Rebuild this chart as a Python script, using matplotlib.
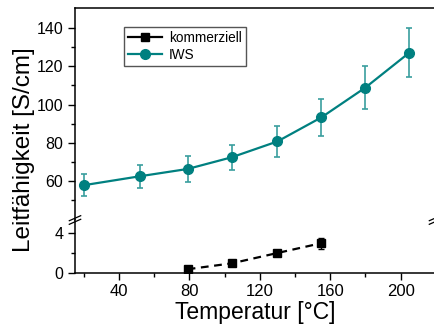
import matplotlib
matplotlib.use('Agg')
import matplotlib.pyplot as plt
from matplotlib.lines import Line2D
from matplotlib.ticker import MultipleLocator, FixedLocator

plt.rcParams['font.family'] = ['Liberation Sans', 'DejaVu Sans']

# IWS measurements
iws_temp = [20, 52, 79, 104, 130, 155, 180, 205]
iws_cond = [57.8, 62.5, 66.3, 72.4, 80.7, 93.3, 108.9, 127.2]
iws_err = [5.8, 6.1, 6.8, 6.6, 8.1, 9.5, 11.0, 12.8]

# commercial reference
kom_temp = [79, 104, 130, 155]
kom_cond = [0.4, 0.98, 2.0, 2.97]
kom_err = [0.15, 0.2, 0.25, 0.55]

teal = '#008080'
W, H = 435, 331

fig = plt.figure(figsize=(W / 100, H / 100), dpi=100)

left, right = 75, 435
y_top, y_brk, y_bot = 8, 220, 273.3
ax_hi = fig.add_axes([left / W, 1 - y_brk / H, (right - left) / W, (y_brk - y_top) / H])
ax_lo = fig.add_axes([left / W, 1 - y_bot / H, (right - left) / W, (y_bot - y_brk) / H], sharex=ax_hi)

ax_hi.errorbar(iws_temp, iws_cond, yerr=iws_err, color=teal, lw=1.6, marker='o', ms=7,
               ecolor='#3a9e9e', elinewidth=1.2, capsize=2.5, capthick=1.2, label='IWS')
ax_lo.errorbar(kom_temp, kom_cond, yerr=kom_err, color='black', lw=1.6, ls=(0, (3.5, 2.5)),
               marker='s', ms=6, ecolor='black', elinewidth=1.0, capsize=2.5, capthick=1.0,
               label='kommerziell')

ax_hi.set_ylim(39.6, 150.5)
ax_lo.set_ylim(0, 5.25)
ax_hi.set_xlim(15, 219.5)

ax_hi.yaxis.set_major_locator(FixedLocator([60, 80, 100, 120, 140]))
ax_hi.yaxis.set_minor_locator(FixedLocator([50, 70, 90, 110, 130]))
ax_lo.yaxis.set_major_locator(MultipleLocator(4))
ax_lo.yaxis.set_minor_locator(MultipleLocator(2))
ax_lo.xaxis.set_major_locator(MultipleLocator(40))
ax_lo.xaxis.set_minor_locator(MultipleLocator(20))

for ax in (ax_hi, ax_lo):
    ax.spines['right'].set_visible(False)
    ax.tick_params(which='both', direction='out', labelsize=11.5, width=1, colors='black')
    ax.tick_params(which='major', length=5)
    ax.tick_params(which='minor', length=3)
    for sp in ax.spines.values():
        sp.set_linewidth(1.1)

ax_hi.spines['bottom'].set_visible(False)
ax_lo.spines['top'].set_visible(False)
ax_hi.tick_params(axis='x', which='both', bottom=False, labelbottom=False)
ax_lo.tick_params(axis='x', labelsize=12, pad=3)

ax_lo.set_xlabel('Temperatur [°C]', fontsize=16.5, labelpad=1)
fig.text(24 / W, 1 - 150 / H, 'Leitfähigkeit [S/cm]', rotation=90, fontsize=17.5,
         ha='center', va='center')

# break marks on the axis
for xb in (left, right):
    for dy in (-1.8, 1.8):
        x0, x1 = xb - 5.7, xb + 5.7
        y0, y1 = y_brk + 2.5 + dy, y_brk - 2.5 + dy
        fig.add_artist(Line2D([x0 / W, x1 / W], [1 - y0 / H, 1 - y1 / H], color='black', lw=0.9))

handles = [
    Line2D([], [], color='black', lw=1.6, marker='s', ms=6),
    Line2D([], [], color=teal, lw=1.6, marker='o', ms=7),
]
leg = ax_hi.legend(handles, ['kommerziell', 'IWS'], loc='upper left', bbox_to_anchor=(0.136, 0.912),
                   borderaxespad=0, fontsize=9.8, handlelength=2.5, handletextpad=0.5,
                   labelspacing=0.25, borderpad=0.3, fancybox=False, framealpha=1)
leg.get_frame().set_edgecolor('#555555')
leg.get_frame().set_linewidth(1.0)

fig.savefig('out.png', dpi=100)
